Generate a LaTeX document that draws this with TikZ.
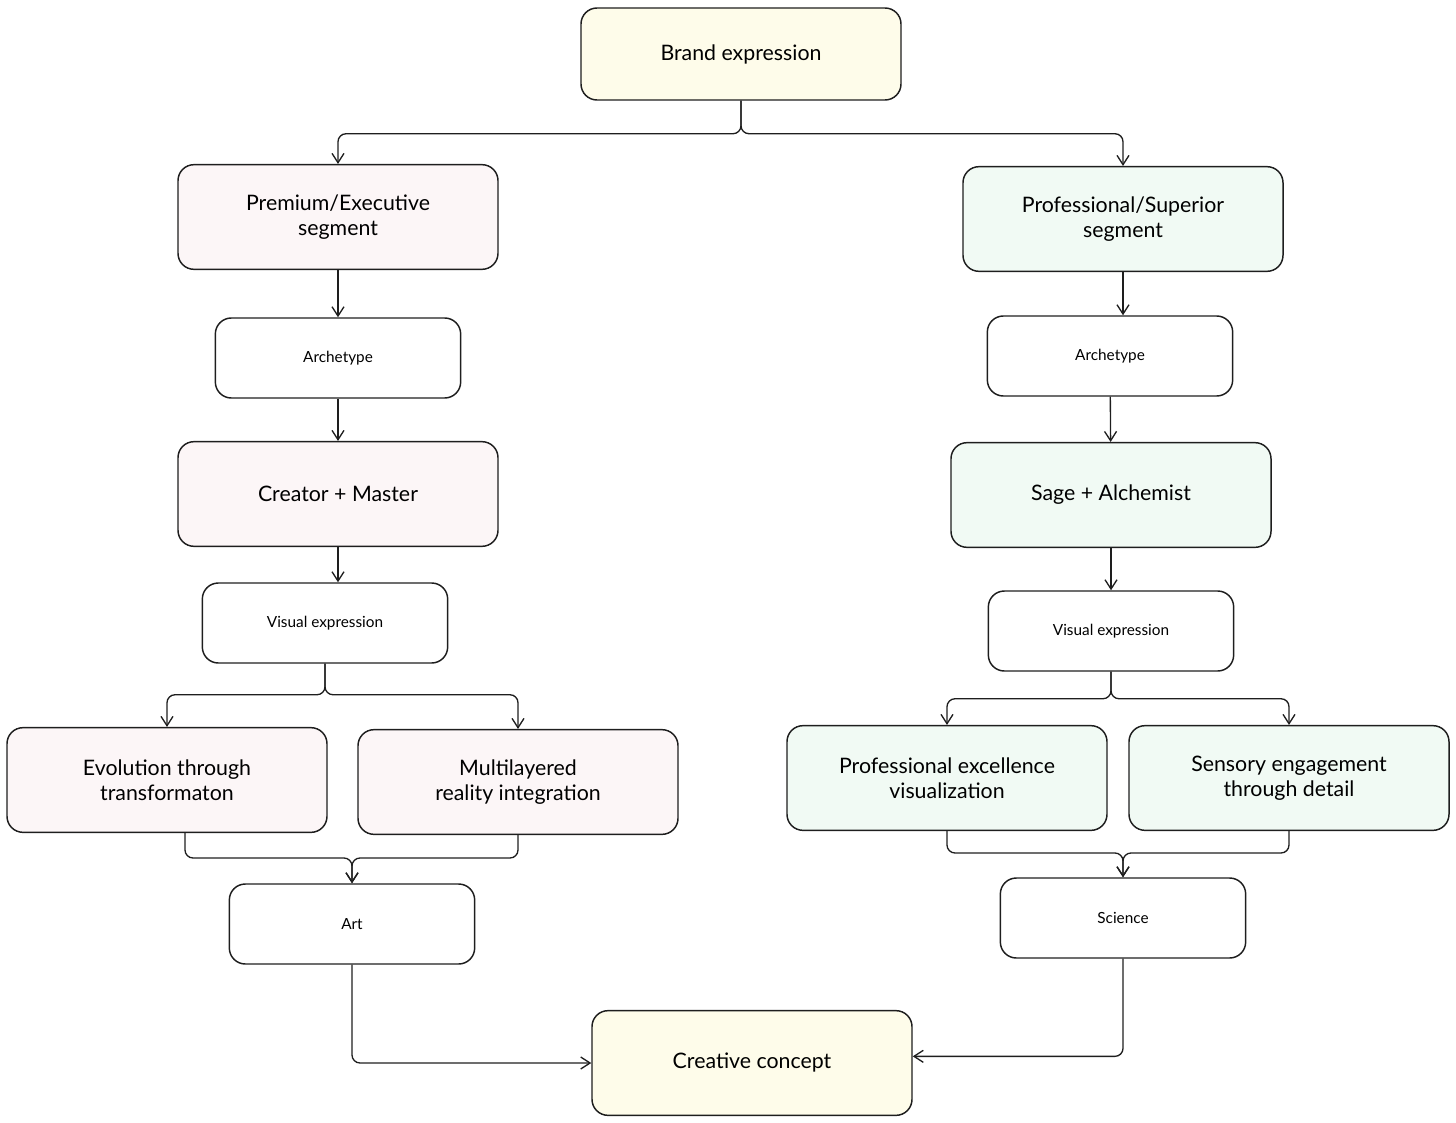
\documentclass[tikz,border=0pt]{standalone}
\usepackage{fontspec}
\setmainfont{Lato}
\usepackage{tikz}
\usetikzlibrary{arrows.meta}
\usepackage{xcolor}
\definecolor{creamfill}{RGB}{254,252,234}
\definecolor{rosefill}{RGB}{252,246,247}
\definecolor{mintfill}{RGB}{241,250,244}
\definecolor{inkline}{RGB}{30,30,30}

\begin{document}
\begin{tikzpicture}[x=0.75pt,y=0.75pt,yscale=-1,xscale=1,
  bigbox/.style={draw=inkline, line width=1.1pt, rounded corners=12pt, minimum width=240pt, minimum height=78.5pt, align=center, font=\fontsize{16}{19}\selectfont},
  smallbox/.style={draw=inkline, line width=1.1pt, rounded corners=12pt, minimum width=184pt, minimum height=60pt, align=center, font=\fontsize{11.5}{14}\selectfont},
  conn/.style={draw=inkline, line width=1pt, rounded corners=6pt, -{Straight Barb[length=7pt,width=9pt]}}]
\useasboundingbox (0,0) rectangle (1456,1123); %set diagram to the reference size

%Shape: Rounded Rect [top]
\node (brand) at (741,54) [bigbox, fill=creamfill, minimum height=69pt] {Brand expression};

%Shape: Rounded Rect [left column]
\node (premium) at (338,217) [bigbox, fill=rosefill] {Premium/Executive\\segment};
\node (archL) at (338,358) [smallbox] {Archetype};
\node (creator) at (338,494) [bigbox, fill=rosefill] {Creator + Master};
\node (visL) at (325,623) [smallbox] {Visual expression};
\node (evol) at (167,780) [bigbox, fill=rosefill] {Evolution through\\transformaton};
\node (multi) at (518,782) [bigbox, fill=rosefill] {Multilayered\\reality integration};
\node (art) at (352,924) [smallbox] {Art};

%Shape: Rounded Rect [right column]
\node (profseg) at (1123,219) [bigbox, fill=mintfill] {Professional/Superior\\segment};
\node (archR) at (1110,356) [smallbox] {Archetype};
\node (sage) at (1111,495) [bigbox, fill=mintfill] {Sage + Alchemist};
\node (visR) at (1111,631) [smallbox] {Visual expression};
\node (profex) at (947,778) [bigbox, fill=mintfill] {Professional excellence\\visualization};
\node (sensory) at (1289,778) [bigbox, fill=mintfill] {Sensory engagement\\through detail};
\node (science) at (1123,918) [smallbox] {Science};

%Shape: Rounded Rect [bottom]
\node (creative) at (752,1063) [bigbox, fill=creamfill] {Creative concept};

% Connector split points
\coordinate (artin) at (352,858);
\coordinate (sciin) at (1123,853);

% Connectors
\draw [conn] (brand.south) -- ++(0,33) -| (premium.north);
\draw [conn] (brand.south) -- ++(0,33) -| (profseg.north);
\draw [conn] (premium) -- (archL);
\draw [conn] (archL) -- (creator);
\draw [conn] (creator.south) -- (creator.south |- visL.north);
\draw [conn] (profseg.south) -- (profseg.south |- archR.north);
\draw [conn] (archR) -- (sage);
\draw [conn] (sage) -- (visR);
\draw [conn] (visL.south) -- ++(0,31) -| (evol.north);
\draw [conn] (visL.south) -- ++(0,31) -| (multi.north);
\draw [conn] (visR.south) -- ++(0,27) -| (profex.north);
\draw [conn] (visR.south) -- ++(0,27) -| (sensory.north);
\draw [conn] ([xshift=13.5pt]evol.south) |- (artin) -- (art.north);
\draw [conn] (multi.south) |- (artin) -- (art.north);
\draw [conn] (profex.south) |- (sciin) -- (science.north);
\draw [conn] (sensory.south) |- (sciin) -- (science.north);
\draw [conn] (art.south) |- (creative.west);
\draw [conn] (science.south) |- ([yshift=-5pt]creative.east);

\end{tikzpicture}
\end{document}
